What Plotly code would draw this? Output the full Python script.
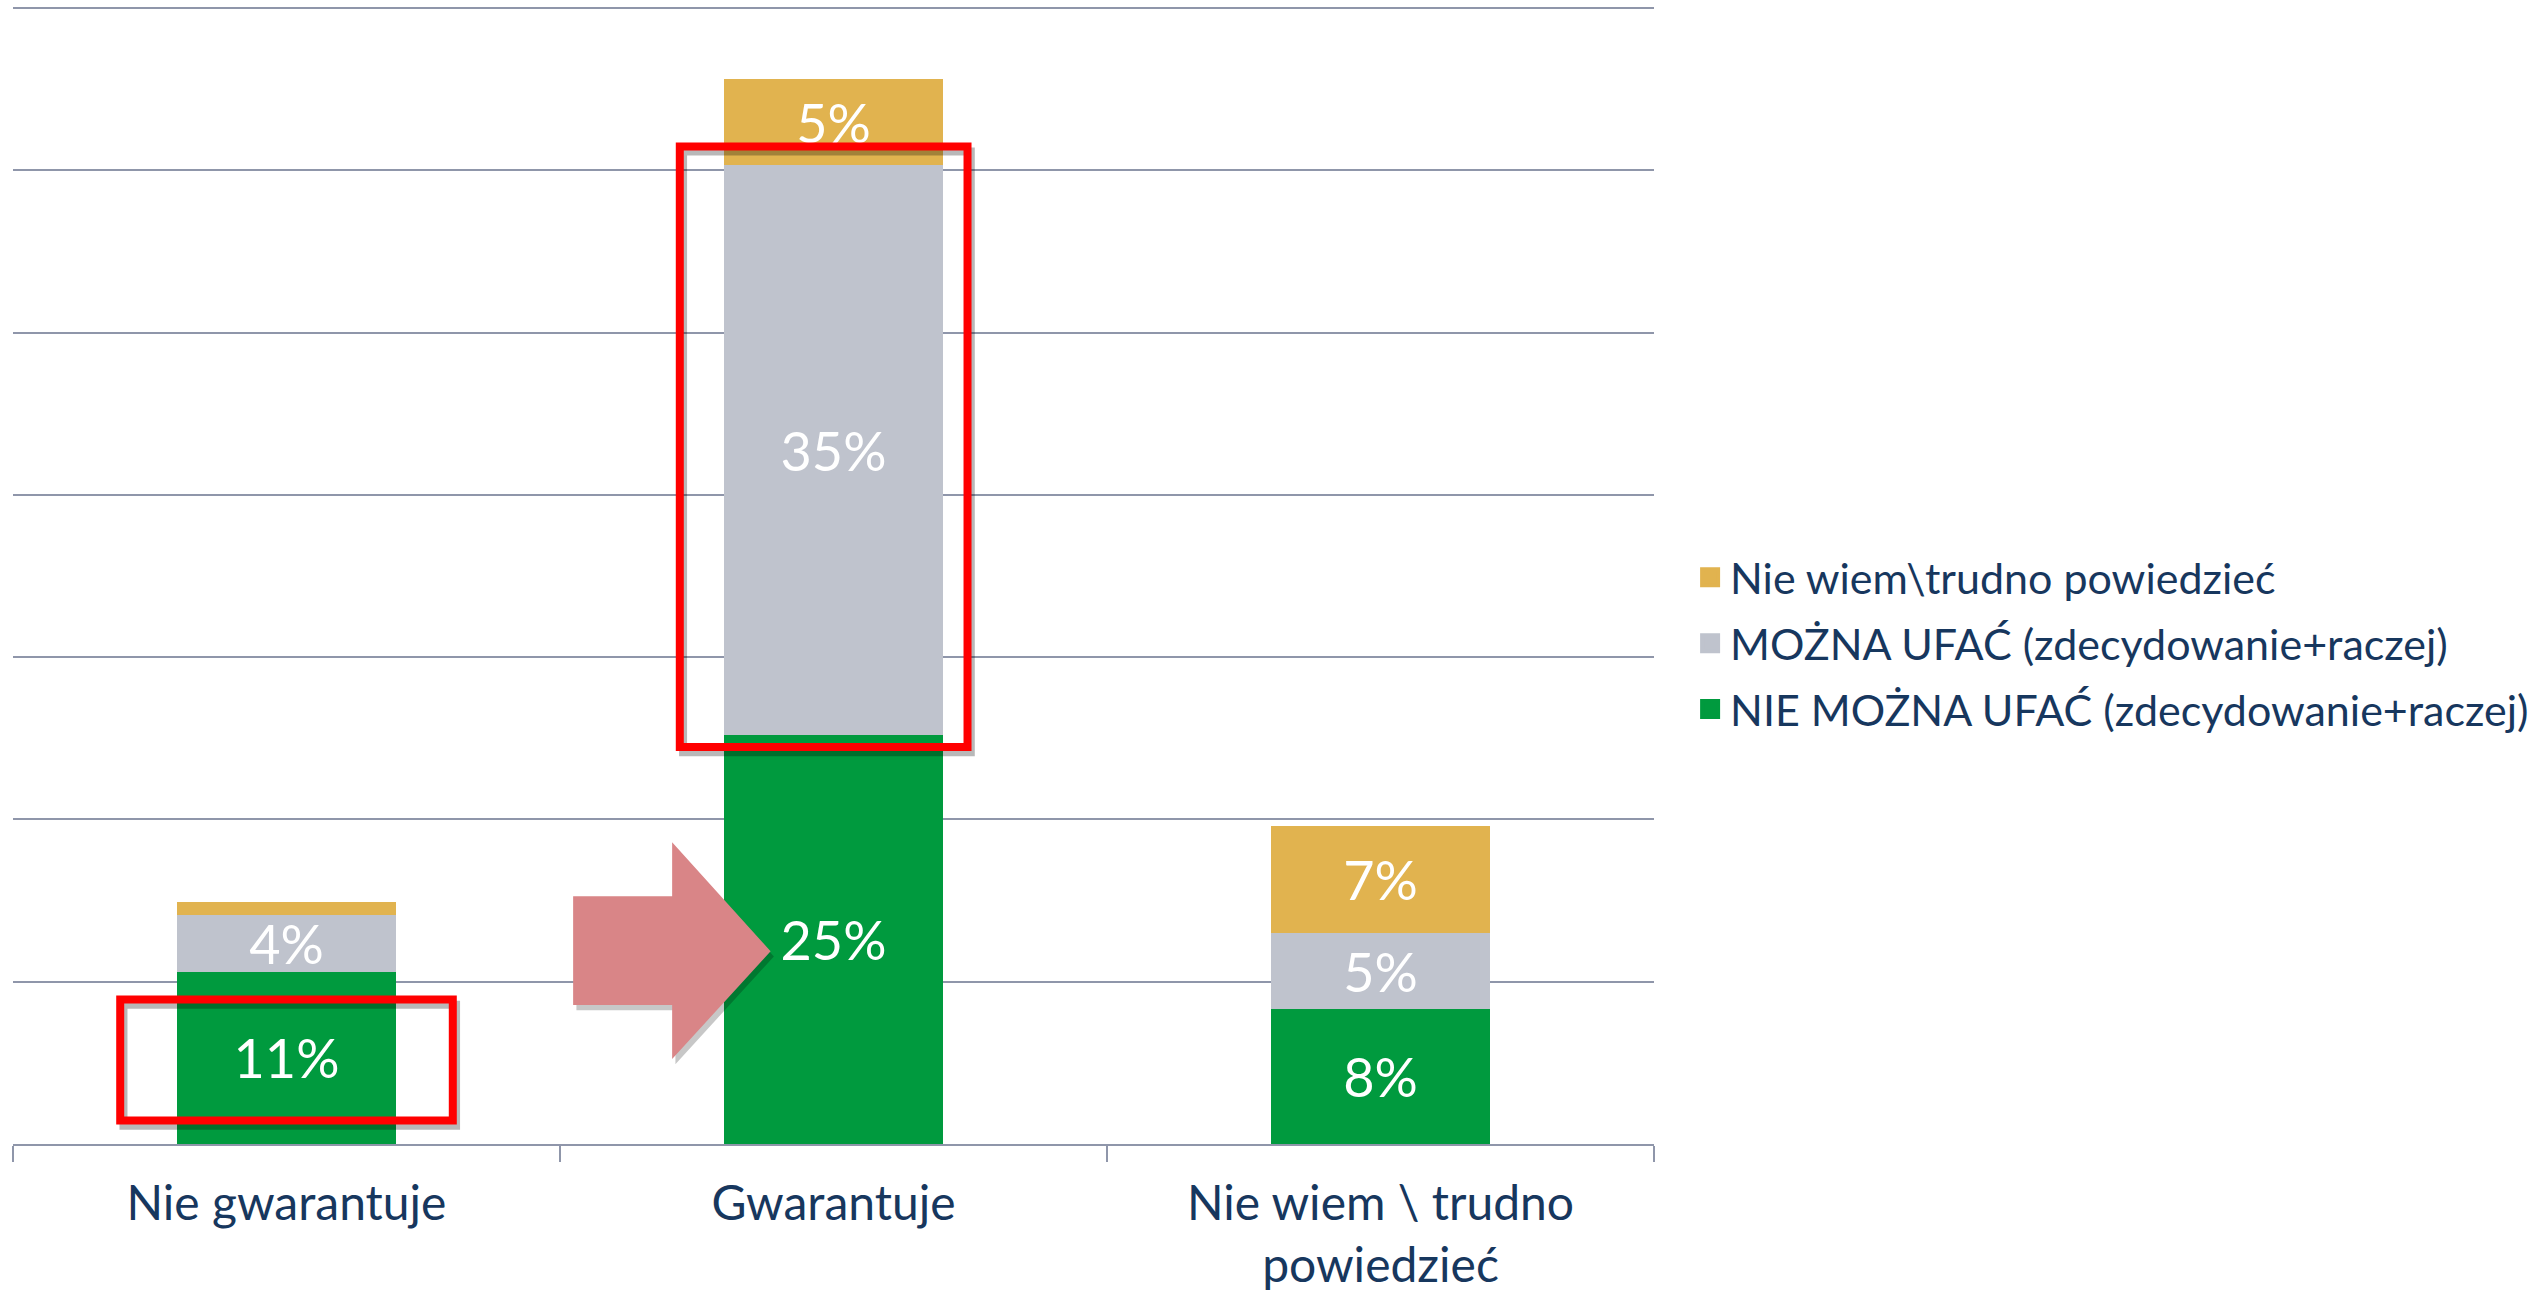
import plotly.graph_objects as go

# ---- data ----
categories = ["Nie gwarantuje", "Gwarantuje", "Nie wiem \\ trudno<br>powiedzieć"]
series_names = [
    "NIE MOŻNA UFAĆ (zdecydowanie+raczej)",
    "MOŻNA UFAĆ (zdecydowanie+raczej)",
    "Nie wiem\\trudno powiedzieć",
]
nie_mozna_ufac = [10.6, 25.2, 8.3]
mozna_ufac = [3.5, 35.1, 4.7]
nie_wiem = [0.8, 5.3, 6.6]
series_values = [nie_mozna_ufac, mozna_ufac, nie_wiem]
series_colors = ["#009A3E", "#BFC3CD", "#E1B34F"]
legend_ranks = [3, 2, 1]

TEXT_COLOR = "#17375E"
GRID_COLOR = "#8F96AA"
FONT = "Lato"


def label(v):
    return f"{v:.0f}%" if v >= 2 else ""


fig = go.Figure()
for name, vals, col in zip(series_names, series_values, series_colors):
    fig.add_trace(go.Bar(
        x=categories, y=vals, name=name,
        marker=dict(color=col, line=dict(width=0)),
        text=[label(v) for v in vals],
        textposition="inside", insidetextanchor="middle",
        constraintext="none",
        textfont=dict(family=FONT, size=54, color="white"),
        showlegend=False,
        hoverinfo="skip",
    ))

# legend entries (square swatches)
for name, col, rank in zip(series_names, series_colors, legend_ranks):
    fig.add_trace(go.Scatter(
        x=[None], y=[None], mode="markers", name=name,
        marker=dict(symbol="square", size=16, color=col, line=dict(color=col, width=4)),
        legendgroup=name, legendrank=rank, showlegend=True, hoverinfo="skip",
    ))

# ---- highlight shapes (decoration) ----
shapes = []
sx, sy = 0.006, 0.32  # shadow offset in axis units


def rect(x0, x1, y0, y1):
    shapes.append(dict(type="rect", xref="x", yref="y", x0=x0 + sx, x1=x1 + sx,
                       y0=y0 - sy, y1=y1 - sy, line=dict(color="rgba(0,0,0,0.28)", width=8),
                       layer="above"))
    shapes.append(dict(type="rect", xref="x", yref="y", x0=x0, x1=x1, y0=y0, y1=y1,
                       line=dict(color="#FF0000", width=8), layer="above"))


rect(-0.304, 0.304, 1.45, 8.9)
rect(1 - 0.281, 1 + 0.245, 24.46, 61.47)

# arrow pointing at the "Gwarantuje" bar
ax = [0.524, 0.705, 0.705, 0.885, 0.705, 0.705, 0.524]
ay = [15.27, 15.27, 18.6, 11.88, 5.23, 8.56, 8.56]


def path(xs, ys, dx=0.0, dy=0.0):
    pts = [f"{x + dx},{y + dy}" for x, y in zip(xs, ys)]
    return "M" + " L".join(pts) + " Z"


shapes.append(dict(type="path", xref="x", yref="y", path=path(ax, ay, sx, -sy),
                   fillcolor="rgba(0,0,0,0.22)", line=dict(width=0), layer="above"))
shapes.append(dict(type="path", xref="x", yref="y", path=path(ax, ay),
                   fillcolor="#D98587", line=dict(width=0), layer="above"))

fig.update_layout(
    width=2542, height=1292,
    margin=dict(l=13, r=888, t=6, b=148, autoexpand=False),
    paper_bgcolor="white", plot_bgcolor="white",
    barmode="stack", bargap=0.6,
    font=dict(family=FONT, color=TEXT_COLOR),
    shapes=shapes,
    showlegend=True,
    legend=dict(
        x=1.022, xanchor="left", y=0.44, yanchor="middle",
        traceorder="grouped", tracegroupgap=7,
        font=dict(family=FONT, size=43, color=TEXT_COLOR),
        bgcolor="rgba(0,0,0,0)",
    ),
    xaxis=dict(
        type="category", tickson="boundaries", ticks="outside", ticklen=16,
        tickwidth=2, tickcolor=GRID_COLOR, showline=True, linecolor=GRID_COLOR,
        linewidth=2, showgrid=False, tickfont=dict(family=FONT, size=48, color=TEXT_COLOR),
        ticklabelstandoff=16, automargin=False,
    ),
    yaxis=dict(
        range=[0, 70.12], tickvals=[10, 20, 30, 40, 50, 60, 70], showticklabels=False,
        showgrid=True, gridcolor=GRID_COLOR, gridwidth=2, zeroline=False,
        showline=False, ticks="", automargin=False,
    ),
)

fig.write_html("out.html", post_script="document.body.style.margin='0';",
               config={"displayModeBar": False})
